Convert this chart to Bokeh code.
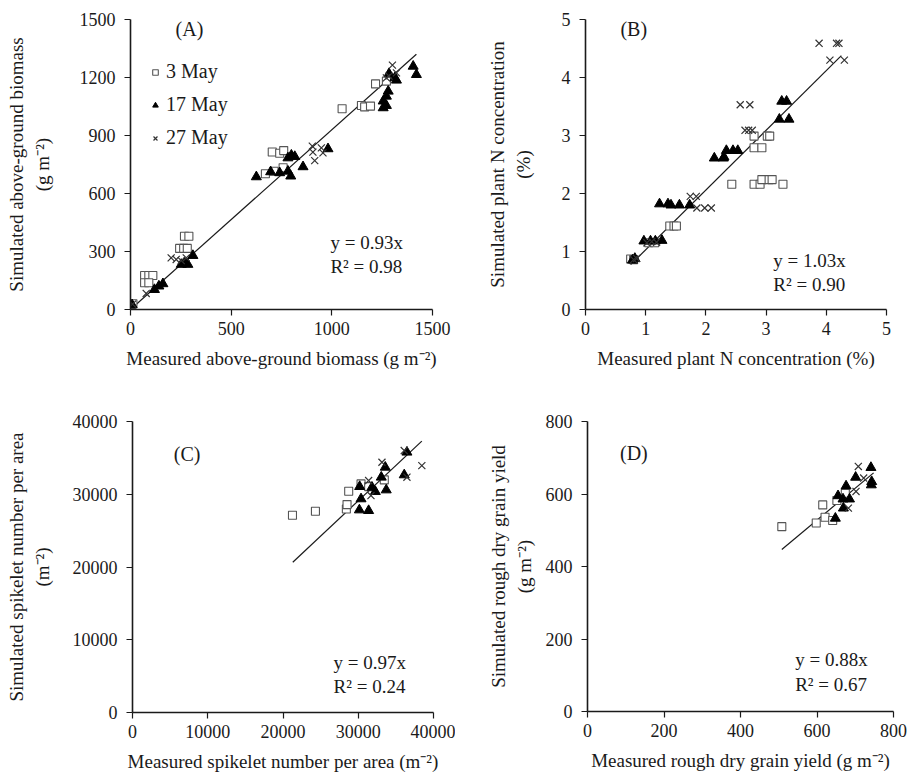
from bokeh.plotting import figure
from bokeh.models import Range1d, FixedTicker, Label, Legend, LegendItem
from bokeh.layouts import column, row
from bokeh.embed import file_html
from bokeh.resources import INLINE

FONT = "Liberation Serif"
INK = "#1a1a1a"

# ---------------- Data ----------------
# Panel A: above-ground biomass (g m-2)
a_may3_x = [5, 12, 70, 91, 111, 70, 91, 244, 264, 282, 268, 290, 670, 704, 741, 761, 713, 758, 1051, 1147, 1163, 1192, 1217, 1271]
a_may3_y = [26, 30, 176, 176, 176, 138, 138, 316, 316, 316, 379, 379, 702, 815, 808, 822, 715, 733, 1038, 1055, 1048, 1052, 1167, 1181]
a_may17_x = [8, 119, 141, 161, 252, 268, 285, 310, 625, 696, 741, 782, 796, 782, 799, 816, 857, 981, 1255, 1271, 1255, 1271, 1280, 1284, 1321, 1313, 1404, 1420]
a_may17_y = [24, 103, 121, 133, 233, 241, 233, 279, 686, 712, 707, 715, 690, 784, 798, 791, 738, 831, 1043, 1055, 1078, 1103, 1129, 1220, 1186, 1198, 1258, 1215]
a_may27_x = [10, 78, 202, 227, 252, 277, 903, 906, 915, 948, 956, 1271, 1301, 1284, 1321]
a_may27_y = [28, 83, 267, 259, 253, 267, 845, 814, 770, 836, 810, 1198, 1264, 1207, 1224]
a_fit_x = [0, 1420]
a_slope = 0.93

# Panel B: plant N concentration (%)
b_may3_x = [0.75, 0.80, 1.05, 1.15, 1.40, 1.47, 1.51, 2.80, 3.02, 3.06, 2.80, 2.93, 2.43, 2.80, 2.90, 2.93, 3.05, 3.10, 3.28]
b_may3_y = [0.87, 0.86, 1.15, 1.15, 1.44, 1.44, 1.44, 2.99, 2.99, 2.99, 2.79, 2.79, 2.16, 2.16, 2.16, 2.24, 2.24, 2.24, 2.16]
b_may17_x = [0.78, 0.82, 0.97, 1.08, 1.16, 1.27, 1.23, 1.37, 1.42, 1.56, 1.73, 2.14, 2.29, 2.34, 2.45, 2.53, 2.30, 3.22, 3.38, 3.26, 3.34]
b_may17_y = [0.85, 0.88, 1.18, 1.18, 1.18, 1.19, 1.82, 1.82, 1.80, 1.80, 1.80, 2.61, 2.61, 2.74, 2.74, 2.74, 2.63, 3.28, 3.28, 3.59, 3.59]
b_may27_x = [0.80, 0.85, 1.02, 1.10, 1.18, 1.74, 1.84, 1.85, 1.98, 2.09, 2.57, 2.73, 2.65, 2.71, 2.77, 3.88, 4.17, 4.21, 4.06, 4.30]
b_may27_y = [0.86, 0.88, 1.15, 1.17, 1.16, 1.95, 1.95, 1.75, 1.75, 1.75, 3.53, 3.53, 3.09, 3.09, 3.09, 4.59, 4.59, 4.59, 4.30, 4.30]
b_fit_x = [0.75, 4.25]
b_slope = 1.03

# Panel C: spikelet number per area (m-2)
c_may3_x = [21260, 24310, 28420, 28510, 28730, 30370, 31380, 33460]
c_may3_y = [27110, 27660, 27980, 28580, 30410, 31420, 31050, 31970]
c_may17_x = [30190, 30370, 30150, 31380, 31820, 32270, 33060, 33590, 33720, 36110, 36470]
c_may17_y = [31050, 29360, 27840, 27750, 30960, 30370, 32340, 33710, 30590, 32660, 35780]
c_may27_x = [31380, 31690, 33150, 36110, 36470, 38450]
c_may27_y = [31880, 29820, 34400, 36010, 32340, 33940]
c_fit_x = [21300, 38450]
c_slope = 0.97

# Panel D: rough dry grain yield (g m-2)
d_may3_x = [508, 598, 615, 621, 641, 652, 674]
d_may3_y = [510, 520, 570, 536, 527, 582, 602]
d_may17_x = [648, 655, 668, 669, 676, 685, 701, 741, 743, 742]
d_may17_y = [533, 595, 586, 561, 622, 586, 646, 673, 634, 625]
d_may27_x = [682, 702, 708, 722]
d_may27_y = [561, 607, 676, 644]
d_fit_x = [508, 748]
d_slope = 0.88

series_names = ["3 May", "17 May", "27 May"]


def make_panel(xmax, xticks, ymax, yticks, xlabel, ylabel, fw, fh,
               bl, br, bt, bb, ylab_standoff):
    p = figure(frame_width=fw, frame_height=fh,
               x_range=Range1d(0, xmax), y_range=Range1d(0, ymax),
               output_backend="svg", toolbar_location=None,
               min_border_left=bl, min_border_right=br,
               min_border_top=bt, min_border_bottom=bb,
               background_fill_color="white", border_fill_color="white")
    p.grid.visible = False
    p.outline_line_color = None
    for ax, ticks in ((p.xaxis[0], xticks), (p.yaxis[0], yticks)):
        ax.ticker = FixedTicker(ticks=ticks)
        ax.axis_line_color = INK
        ax.axis_line_width = 1.6
        ax.major_tick_line_color = INK
        ax.major_tick_line_width = 1.2
        ax.major_tick_out = 6
        ax.major_tick_in = 0
        ax.minor_tick_line_color = None
        ax.major_label_text_font = FONT
        ax.major_label_text_font_size = "18px"
        ax.major_label_text_color = INK
        ax.axis_label_text_font = FONT
        ax.axis_label_text_font_size = "19px"
        ax.axis_label_text_font_style = "normal"
        ax.axis_label_text_color = INK
    p.xaxis[0].axis_label = xlabel
    p.yaxis[0].axis_label = ylabel
    p.xaxis[0].major_label_standoff = 6
    p.xaxis[0].axis_label_standoff = 10
    p.yaxis[0].major_label_standoff = 9
    p.yaxis[0].axis_label_standoff = ylab_standoff
    return p


def add_points(p, xs3, ys3, xs17, ys17, xs27, ys27):
    r1 = p.scatter(xs3, ys3, marker="square", size=8, fill_color="white",
                   line_color="#555555", line_width=1.1)
    r2 = p.scatter(xs17, ys17, marker="triangle", size=10, fill_color="black",
                   line_color="black")
    r3 = p.scatter(xs27, ys27, marker="x", size=10, line_color="#333333",
                   line_width=1.2)
    return r1, r2, r3


def add_fit(p, fx, slope):
    p.line(fx, [slope * v for v in fx], line_color=INK, line_width=1.2)


def add_text(p, x, y, txt, size="19px"):
    p.add_layout(Label(x=x, y=y, text=txt, text_font=FONT, text_font_size=size,
                       text_color=INK, text_baseline="middle", text_align="left"))


# Panel A
pA = make_panel(1500, [0, 500, 1000, 1500], 1500, [0, 300, 600, 900, 1200, 1500],
                "Measured above-ground biomass (g m\u207b\u00b2)",
                "Simulated above-ground biomass\n(g m\u207b\u00b2)",
                302, 290, 130, 23, 19, 89, 24)
add_fit(pA, a_fit_x, a_slope)
rA = add_points(pA, a_may3_x, a_may3_y, a_may17_x, a_may17_y, a_may27_x, a_may27_y)
add_text(pA, 224, 1453, "(A)", "20px")
add_text(pA, 993, 347, "y = 0.93x")
add_text(pA, 993, 222, "R\u00b2 = 0.98")
leg = Legend(items=[LegendItem(label=n, renderers=[r]) for n, r in zip(series_names, rA)],
             location=(18, 160), orientation="vertical",
             label_text_font=FONT, label_text_font_size="20px", label_text_color=INK,
             glyph_width=14, glyph_height=20, label_height=20, label_standoff=4,
             spacing=10, padding=0, margin=0, border_line_color=None,
             background_fill_alpha=0)
pA.add_layout(leg)

# Panel B
pB = make_panel(5, [0, 1, 2, 3, 4, 5], 5, [0, 1, 2, 3, 4, 5],
                "Measured plant N concentration (%)",
                "Simulated plant N concentration\n(%)",
                301, 290, 130, 15, 19, 89, 25)
add_fit(pB, b_fit_x, b_slope)
add_points(pB, b_may3_x, b_may3_y, b_may17_x, b_may17_y, b_may27_x, b_may27_y)
add_text(pB, 0.58, 4.84, "(B)", "20px")
add_text(pB, 3.12, 0.85, "y = 1.03x")
add_text(pB, 3.12, 0.43, "R\u00b2 = 0.90")

# Panel C
pC = make_panel(40000, [0, 10000, 20000, 30000, 40000], 40000, [0, 10000, 20000, 30000, 40000],
                "Measured spikelet number per area (m\u207b\u00b2)",
                "Simulated spikelet number per area\n(m\u207b\u00b2)",
                301, 291, 132, 22, 23, 60, 17)
add_fit(pC, c_fit_x, c_slope)
add_points(pC, c_may3_x, c_may3_y, c_may17_x, c_may17_y, c_may27_x, c_may27_y)
add_text(pC, 5480, 35600, "(C)", "20px")
add_text(pC, 26720, 6840, "y = 0.97x")
add_text(pC, 26720, 3540, "R\u00b2 = 0.24")

# Panel D
pD = make_panel(800, [0, 200, 400, 600, 800], 800, [0, 200, 400, 600, 800],
                "Measured rough dry grain yield (g m\u207b\u00b2)",
                "Simulated rough dry grain yield\n(g m\u207b\u00b2)",
                306, 290, 132, 14, 23, 60, 8)
add_fit(pD, d_fit_x, d_slope)
add_points(pD, d_may3_x, d_may3_y, d_may17_x, d_may17_y, d_may27_x, d_may27_y)
add_text(pD, 85, 713, "(D)", "20px")
add_text(pD, 543, 143, "y = 0.88x")
add_text(pD, 543, 74, "R\u00b2 = 0.67")

layout = column(row(pA, pB), row(pC, pD))

open("out.html", "w").write(file_html(layout, INLINE))
